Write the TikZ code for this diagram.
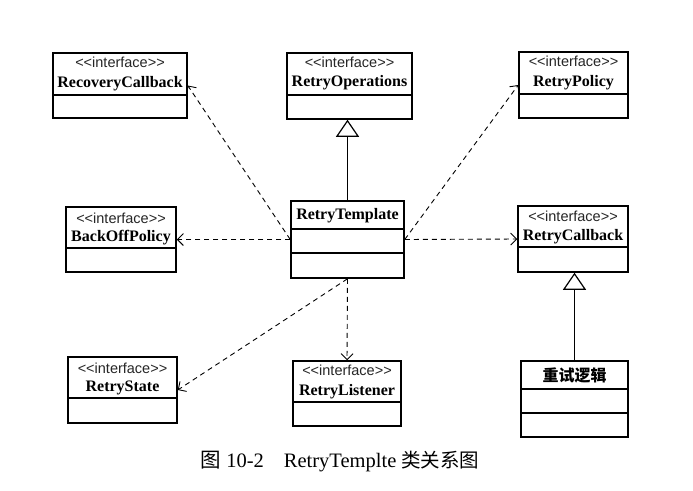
\documentclass[tikz,border=0pt]{standalone}
\usepackage{fontspec}
\setmainfont{Liberation Serif}
\newfontfamily\arialf{Liberation Sans}
\newfontfamily\cjk{Noto Sans CJK SC}
\usetikzlibrary{arrows.meta}
\begin{document}
\begin{tikzpicture}[x=1pt,y=-1pt,
  box/.style={draw, line width=1.5pt, inner sep=0pt, rectangle},
  stereo/.style={font=\arialf\fontsize{14.5}{15}\selectfont, text=black!85, inner sep=0pt, anchor=base},
  cname/.style={font=\bfseries\fontsize{16}{17}\selectfont, inner sep=0pt, anchor=base},
  divline/.style={line width=1.5pt},
  dep/.style={line width=0.9pt, dash pattern=on 5pt off 4pt, -{Straight Barb[length=6pt,width=12pt]}},
  gen/.style={line width=0.9pt, -{Triangle[open,length=17pt,width=23pt,line width=1.2pt]}}]
\path[fill=white] (0,0) rectangle (693,490);
\useasboundingbox (0,0) rectangle (693,490);

% boxes
\node[box, minimum width=134pt, minimum height=65pt] (rc) at (120,85.5) {};
\draw[divline] (rc.west |- 0,95) -- (rc.east |- 0,95);
\node[stereo] (rcs) at (120,67.3) {<<interface>>};
\node[cname] (rcn) at (120,87.3) {RecoveryCallback};

\node[box, minimum width=125pt, minimum height=66pt] (ro) at (349.5,86) {};
\draw[divline] (ro.west |- 0,95) -- (ro.east |- 0,95);
\node[stereo] (ros) at (349.5,67) {<<interface>>};
\node[cname] (ron) at (349.5,86.7) {RetryOperations};

\node[box, minimum width=109pt, minimum height=66pt] (rp) at (573.5,85) {};
\draw[divline] (rp.west |- 0,94) -- (rp.east |- 0,94);
\node[stereo] (rps) at (573.5,66.7) {<<interface>>};
\node[cname] (rpn) at (573.5,86.7) {RetryPolicy};

\node[box, minimum width=110pt, minimum height=65pt] (bo) at (121,239.5) {};
\draw[divline] (bo.west |- 0,248) -- (bo.east |- 0,248);
\node[stereo] (bos) at (121,223) {<<interface>>};
\node[cname] (bon) at (121,241.7) {BackOffPolicy};

\node[box, minimum width=113pt, minimum height=77pt] (rt) at (347.5,239.5) {};
\draw[divline] (rt.west |- 0,229) -- (rt.east |- 0,229);
\draw[divline] (rt.west |- 0,253) -- (rt.east |- 0,253);
\node[cname] (rtn) at (347.5,219) {RetryTemplate};

\node[box, minimum width=110pt, minimum height=66pt] (rcb) at (573,239) {};
\draw[divline] (rcb.west |- 0,247) -- (rcb.east |- 0,247);
\node[stereo] (rcbs) at (573,221.7) {<<interface>>};
\node[cname] (rcbn) at (573,240.7) {RetryCallback};

\node[box, minimum width=109pt, minimum height=66pt] (rs) at (122.5,390) {};
\draw[divline] (rs.west |- 0,398) -- (rs.east |- 0,398);
\node[stereo] (rss) at (122.5,373) {<<interface>>};
\node[cname] (rsn) at (122.5,391.7) {RetryState};

\node[box, minimum width=108pt, minimum height=65pt] (rl) at (347,393.5) {};
\draw[divline] (rl.west |- 0,402) -- (rl.east |- 0,402);
\node[stereo] (rls) at (347,375) {<<interface>>};
\node[cname] (rln) at (347,395) {RetryListener};

\node[box, minimum width=107pt, minimum height=76pt] (cl) at (574.5,399) {};
\draw[divline] (cl.west |- 0,389) -- (cl.east |- 0,389);
\draw[divline] (cl.west |- 0,413) -- (cl.east |- 0,413);
\node[font=\cjk\bfseries\fontsize{16}{17}\selectfont, inner sep=0pt] (cln) at (574.5,375.5) {重试逻辑};

% connectors
\draw[dep] (rt.west) -- (rc.east);
\draw[dep] (rt.east) -- (rp.west);
\draw[dep] (rt.west) -- (bo.east);
\draw[dep] (rt.east) -- (rcb.west);
\draw[dep] (rt.south) -- (rs.east);
\draw[dep] (rt.south) -- (rl.north);
\draw[gen] (rt.north) -- (rt.north |- ro.south);
\draw[gen] (cl.north) -- (cl.north |- rcb.south);

% caption
\node[inner sep=0pt, anchor=base west, font=\fontsize{20.5}{21}\selectfont] (cap) at (200.5,467)
  {{\cjk 图} 10-2\hspace{20pt}RetryTemplte {\cjk\fontsize{19.5}{20}\selectfont 类关系图}};
\end{tikzpicture}
\end{document}
